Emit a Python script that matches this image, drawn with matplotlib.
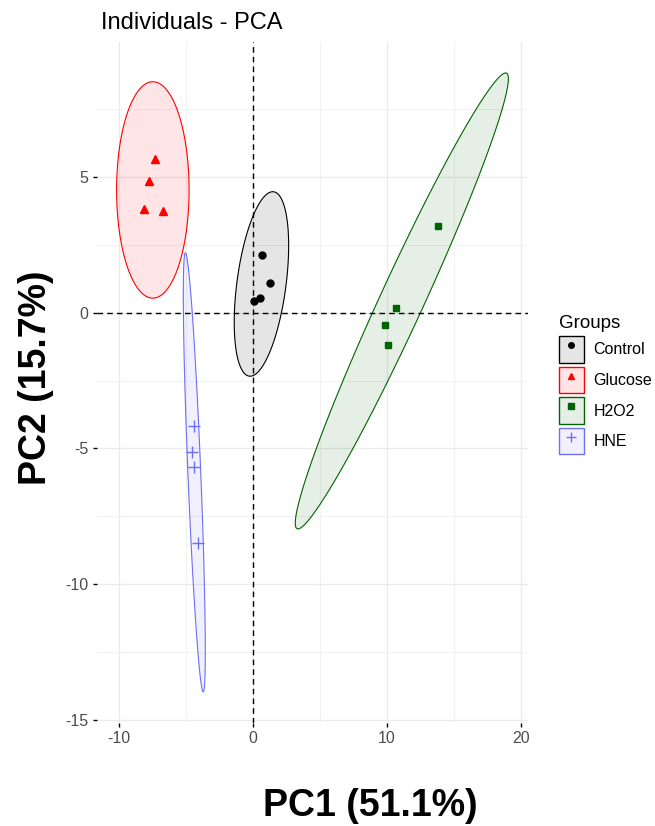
import numpy as np
import matplotlib
matplotlib.use("Agg")
import matplotlib.pyplot as plt
from matplotlib.patches import Patch, Polygon
from matplotlib.lines import Line2D
from matplotlib.legend_handler import HandlerTuple
from matplotlib.colors import to_rgba

plt.rcParams['font.family'] = ['Liberation Sans', 'DejaVu Sans']
plt.rcParams['axes.unicode_minus'] = False

# PCA scores
groups = ["Control", "Glucose", "H2O2", "HNE"]
control_pc1 = [0.68, 1.25, 0.53, 0.13]
control_pc2 = [2.14, 1.11, 0.56, 0.43]
glucose_pc1 = [-7.25, -7.75, -8.10, -6.68]
glucose_pc2 = [5.67, 4.85, 3.82, 3.76]
h2o2_pc1 = [13.78, 10.70, 9.85, 10.10]
h2o2_pc2 = [3.19, 0.19, -0.44, -1.20]
hne_pc1 = [-4.37, -4.55, -4.40, -4.10]
hne_pc2 = [-4.19, -5.15, -5.70, -8.50]

colors = ["black", "#FF0000", "#006400", "#6E6EF7"]
markers = ["o", "^", "s", "+"]
msizes = [5, 6, 5, 8]

pc1 = [control_pc1, glucose_pc1, h2o2_pc1, hne_pc1]
pc2 = [control_pc2, glucose_pc2, h2o2_pc2, hne_pc2]


def norm_ellipse(x, y, level=0.95, segments=101):
    # same as ggplot2 stat_ellipse(type="norm")
    pts = np.column_stack([x, y])
    n = len(pts)
    center = pts.mean(axis=0)
    cov = np.cov(pts, rowvar=False)
    d2 = n - 1
    fq = d2 / 2 * ((1 - level) ** (-2 / d2) - 1)  # F quantile, dfn=2
    radius = np.sqrt(2 * fq)
    t = np.linspace(0, 2 * np.pi, segments)
    circle = np.column_stack([np.cos(t), np.sin(t)])
    L = np.linalg.cholesky(cov)
    return center + radius * circle @ L.T


fig = plt.figure(figsize=(6.55, 8.26), dpi=100)
ax = fig.add_axes([97 / 655, 1 - 723 / 826, (528 - 97) / 655, (723 - 42) / 826])

all_pts = []
for i, g in enumerate(groups):
    ell = norm_ellipse(pc1[i], pc2[i])
    all_pts.append(ell)
    ax.add_patch(Polygon(ell, closed=True, facecolor=to_rgba(colors[i], 0.1),
                         edgecolor=colors[i], lw=0.8, zorder=2))
    ax.plot(pc1[i], pc2[i], linestyle="none", marker=markers[i], color=colors[i],
            ms=msizes[i], mew=1.0, zorder=4)

all_pts = np.vstack(all_pts)
xmin, xmax = all_pts[:, 0].min(), all_pts[:, 0].max()
ymin, ymax = all_pts[:, 1].min(), all_pts[:, 1].max()
dx, dy = (xmax - xmin) * 0.05, (ymax - ymin) * 0.05
ax.set_xlim(xmin - dx, xmax + dx)
ax.set_ylim(ymin - dy, ymax + dy)

ax.axhline(0, color="black", ls=(0, (4, 3)), lw=1.0, zorder=3)
ax.axvline(0, color="black", ls=(0, (4, 3)), lw=1.0, zorder=3)

ax.set_xticks([-10, 0, 10, 20])
ax.set_xticks([-5, 5, 15], minor=True)
ax.set_yticks([-15, -10, -5, 0, 5])
ax.set_yticks([-12.5, -7.5, -2.5, 2.5, 7.5], minor=True)
ax.grid(True, which="major", color="#EBEBEB", lw=1.0, zorder=0)
ax.grid(True, which="minor", color="#F2F2F2", lw=0.8, zorder=0)
ax.set_axisbelow(True)
for s in ax.spines.values():
    s.set_visible(False)
ax.tick_params(which="major", length=3, width=1, color="black",
               labelsize=11.5, labelcolor="#4D4D4D", pad=3)
ax.tick_params(which="minor", length=0)

fig.text(101 / 655, 1 - 29 / 826, "Individuals - PCA", ha="left", va="baseline", fontsize=17)
fig.text(370 / 655, 1 - 806 / 826, "PC1 (51.1%)", ha="center", va="center",
         fontsize=27, fontweight="bold")
fig.text(36 / 655, 1 - 378 / 826, "PC2 (15.7%)", ha="center", va="center",
         fontsize=27, fontweight="bold", rotation=90)

handles = []
for i, g in enumerate(groups):
    box = Patch(facecolor=to_rgba(colors[i], 0.1), edgecolor=colors[i], lw=1.0)
    mk = Line2D([], [], linestyle="none", marker=markers[i], color=colors[i],
                ms=msizes[i] - 1, mew=1.0)
    handles.append((box, mk))

leg = fig.legend(handles, groups, handler_map={tuple: HandlerTuple(ndivide=1)},
                 loc="upper left", bbox_to_anchor=(551 / 655, 1 - 307 / 826),
                 frameon=False, fontsize=11.5, title="Groups", title_fontsize=13.5,
                 handlelength=1.56, handleheight=2.17, labelspacing=0.26,
                 handletextpad=0.6, borderpad=0, alignment="left")

fig.savefig("out.png", dpi=100)
